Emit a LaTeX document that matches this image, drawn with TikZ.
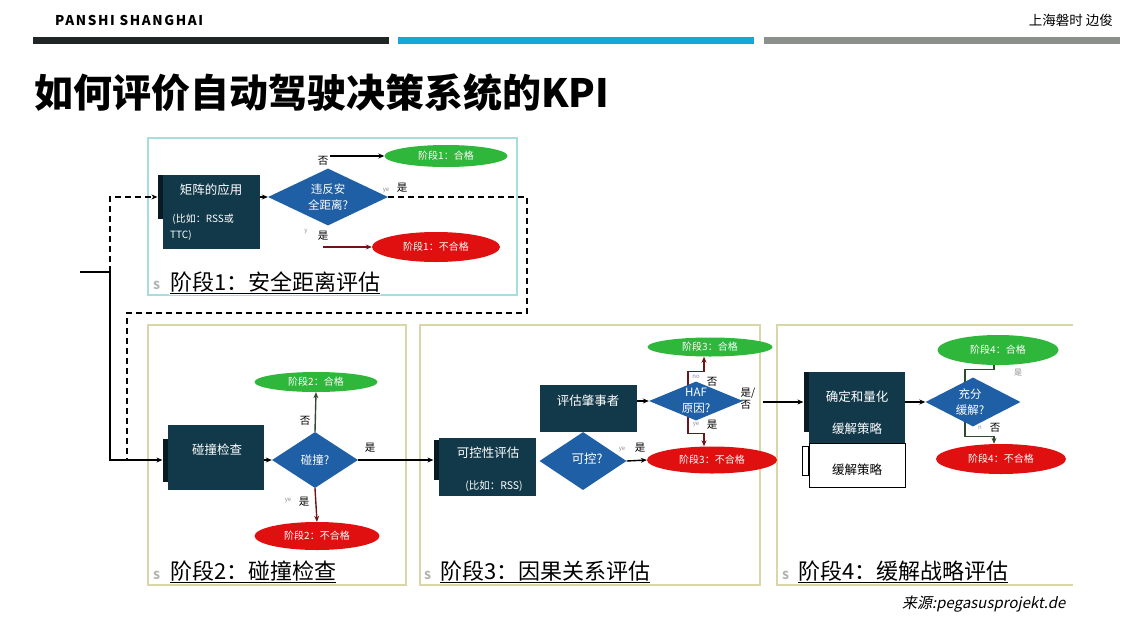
\documentclass[tikz,border=0pt]{standalone}
\usepackage{fontspec}
\setmainfont{Noto Sans CJK SC}
\newfontfamily\slantcjk{Noto Sans CJK SC}[FakeSlant=0.2]
\usetikzlibrary{arrows.meta,positioning,shapes.geometric,backgrounds}
\definecolor{boxteal}{HTML}{11394A}
\definecolor{tabdark}{HTML}{0A1A22}
\definecolor{diablue}{HTML}{1F5FA6}
\definecolor{passgreen}{HTML}{2EB73A}
\definecolor{failred}{HTML}{E01010}
\definecolor{frameone}{HTML}{A6DEDD}
\definecolor{frameall}{HTML}{DAD6A8}
\definecolor{bardark}{HTML}{202626}
\definecolor{barblue}{HTML}{17A6DA}
\definecolor{bargray}{HTML}{8B908D}
\definecolor{wiregreen}{HTML}{2F4A2F}
\definecolor{wirered}{HTML}{6E1414}
\tikzset{
    every node/.style={inner sep=0pt, font=\fontsize{10}{12}\selectfont},
    main box/.style={shape=rectangle, fill=boxteal},
    plain box/.style={shape=rectangle, fill=white, draw=black, line width=0.8pt},
    tab/.style={shape=rectangle, fill=tabdark, minimum width=5pt},
    box text/.style={text=white, font=\fontsize{12.5}{15}\selectfont},
    decision/.style={shape=diamond, fill=diablue, aspect=2},
    dia text/.style={text=white, align=center, font=\fontsize{11.5}{16}\selectfont},
    pass node/.style={shape=ellipse, fill=passgreen, text=white, font=\fontsize{10}{12}\selectfont},
    fail node/.style={shape=ellipse, fill=failred, text=white, font=\fontsize{10}{12}\selectfont},
    yn/.style={font=\fontsize{10.5}{12}\selectfont},
    tiny yn/.style={text=black!45, font=\fontsize{6}{7}\selectfont},
    stage title/.style={anchor=west, fill=white, inner sep=1pt, font=\fontsize{22}{26}\selectfont},
    stage s/.style={anchor=west, text=black!30, font=\bfseries\fontsize{11}{13}\selectfont},
    wire/.style={line width=1.4pt},
    dash wire/.style={line width=2pt, dash pattern=on 6pt off 4pt}
}

\begin{document}
\begin{tikzpicture}[x=1pt,y=-1pt,>={Stealth[length=6pt,width=5pt]}]
    \useasboundingbox (0,0) rectangle (1129,637);
    % header
    \node[anchor=west, font=\bfseries\fontsize{13.5}{15}\selectfont\addfontfeature{LetterSpace=12}] (brand) at (55,20) {PANSHI SHANGHAI};
    \node[anchor=east, font=\fontsize{13.5}{15}\selectfont] (author) at (1113,20) {上海磐时 边俊};
    \fill[bardark] (33,37) rectangle (389,44);
    \fill[barblue] (398,37) rectangle (754,44);
    \fill[bargray] (764,37) rectangle (1120,44);
    \node[anchor=west, font=\bfseries\fontsize{39}{42}\selectfont] (title) at (34,93) {如何评价自动驾驶决策系统的KPI};

    % frames
    \draw[frameone, line width=1.2pt] (148,138) rectangle (517,295);
    \draw[frameall, line width=1.2pt] (148,325) rectangle (406,585);
    \draw[frameall, line width=1.2pt] (420,325) rectangle (760,585);
    \draw[frameall, line width=1.2pt] (1073,325) -- (777,325) -- (777,585) -- (1073,585);

    % stage 1
    \node[main box, minimum width=97pt, minimum height=74pt] (mat) at (211.5,212) {};
    \node[tab, minimum height=44pt, anchor=north east] (mattab) at (mat.north west) {};
    \node[box text] (matlbl) at (211,190) {矩阵的应用};
    \node[anchor=north west, align=left, text=white, font=\fontsize{10}{16}\selectfont] (matex) at (170,214) {\ (比如：RSS或\\TTC)};
    \node[decision, minimum width=120pt, minimum height=57pt] (safe) at (328,197) {};
    \node[dia text] at (safe) {违反安\\全距离?};
    \node[pass node, minimum width=123pt, minimum height=22pt] (pass1) at (446,156) {阶段1：合格};
    \node[fail node, minimum width=128pt, minimum height=30pt] (fail1) at (436,247) {阶段1：不合格};
    \coordinate (no1) at (330,156);
    \coordinate (yes1) at (323,247);
    \draw[wire, ->] (mat.east |- safe.west) -- (safe.west);
    \draw[wire, ->] (no1) -- (pass1.west);
    \draw[wire, wirered, ->] (yes1) -- (fail1.west);
    \node[yn] at (323,161) {否};
    \node[yn] at (402,188) {是};
    \node[tiny yn] at (386,191) {ye};
    \node[yn] at (323,236) {是};
    \node[tiny yn] at (306,232) {y};
    \node[stage s] at (153,285) {S};
    \node[stage title] (t1) at (169,283) {\underline{阶段1：安全距离评估}};

    % stage 2
    \node[main box, minimum width=96pt, minimum height=65pt] (crash) at (216,457.5) {};
    \node[tab, minimum height=43pt, anchor=north east] (crashtab) at ([yshift=-13.5pt]crash.north west) {};
    \node[box text] at (217,450) {碰撞检查};
    \node[decision, minimum width=86pt, minimum height=56pt] (hit) at (315,460) {};
    \node[dia text] at (hit) {碰撞?};
    \node[pass node, minimum width=123pt, minimum height=20pt] (pass2) at (316,382) {阶段2：合格};
    \node[fail node, minimum width=125pt, minimum height=28pt] (fail2) at (317,536) {阶段2：不合格};
    \draw[wire, ->] (crash.east |- hit.west) -- (hit.west);
    \draw[wire, wiregreen, ->] (hit.north) -- (pass2.south);
    \draw[wire, wirered, ->] (hit.south) -- (fail2.north);
    \node[yn] at (305,421) {否};
    \node[yn] at (304,502) {是};
    \node[tiny yn] at (288,501) {ye};
    \node[yn] at (370,448) {是};
    \node[stage s] at (153,575) {S};
    \node[stage title] (t2) at (169,572) {\underline{阶段2：碰撞检查}};

    % entry and loop back
    \coordinate (src) at (80,272);
    \coordinate (fork) at (110,272);
    \coordinate (merge) at (127,460);
    \draw[wire] (src) -- (fork);
    \draw[dash wire, ->] (fork) |- (mattab.west);
    \draw[wire, ->] (fork) |- (crashtab.west);
    \draw[dash wire] (safe.east) -| (527,313) -| (merge);

    % stage 3
    \node[main box, minimum width=97pt, minimum height=58pt] (ctrl) at (487.5,467) {};
    \node[tab, minimum height=40pt, anchor=north east] (ctrltab) at ([yshift=-2pt]ctrl.north west) {};
    \node[box text] at (488,453) {可控性评估};
    \node[text=white, font=\fontsize{10.5}{12}\selectfont] at (494,486) {(比如：RSS)};
    \node[decision, minimum width=87pt, minimum height=58pt] (canctrl) at (583,461) {};
    \node[dia text, font=\fontsize{12.5}{15}\selectfont] at (587,459) {可控?};
    \node[main box, minimum width=97pt, minimum height=47pt] (blame) at (588.5,408.5) {};
    \node[box text] at (588,401) {评估肇事者};
    \node[decision, minimum width=94pt, minimum height=39pt] (haf) at (696,401) {};
    \node[dia text] at (haf) {HAF\\原因?};
    \node[pass node, minimum width=125pt, minimum height=19pt] (pass3) at (710,347) {阶段3：合格};
    \node[fail node, minimum width=130pt, minimum height=27pt] (fail3) at (712,460) {阶段3：不合格};
    \coordinate (out3) at (763,402);
    \draw[wire, ->] (hit.east) -- (ctrltab.west);
    \draw[wire, ->] (canctrl.east) -- (fail3.west);
    \draw[wire, ->] (blame.east |- haf.west) -- (haf.west);
    \begin{scope}[on background layer]
        \draw[wire, wirered, ->] ([xshift=-8pt]haf.center) -- ([xshift=-8pt]haf.north) -- ++(0,-10) -| ([xshift=-6pt]pass3.south);
        \draw[wire, wirered, ->] ([xshift=-8pt]haf.center) -- ([xshift=-8pt]haf.south) -- ++(0,13) -| ([xshift=-8pt]fail3.north);
    \end{scope}
    \node[yn] at (640,448) {是};
    \node[tiny yn] at (622,450) {ye};
    \node[yn] at (712,382) {否};
    \node[tiny yn] at (696,377) {no};
    \node[yn] at (712,425) {是};
    \node[tiny yn] at (696,425) {ye};
    \node[yn, align=left] at (748,399) {是/\\否};
    \node[stage s] at (424,575) {S};
    \node[stage title] (t3) at (439,572) {\underline{阶段3：因果关系评估}};

    % stage 4
    \node[main box, minimum width=96pt, minimum height=71pt] (plan) at (857,407.5) {};
    \node[tab, minimum height=60pt, anchor=north east] (plantab) at (plan.north west) {};
    \node[box text] at (857,397) {确定和量化};
    \node[box text] at (857,429) {缓解策略};
    \node[plain box, minimum width=96pt, minimum height=44pt, anchor=north] (strat) at (plan.south) {};
    \node[plain box, minimum width=6pt, minimum height=29pt, anchor=north east] (strattab) at ([yshift=-3pt]strat.north west) {};
    \node[font=\fontsize{12.5}{15}\selectfont] at (857,470) {缓解策略};
    \node[decision, minimum width=95pt, minimum height=49pt] (enough) at (973,402) {};
    \node[dia text] at (970,402) {充分\\缓解?};
    \node[pass node, minimum width=121pt, minimum height=30pt] (pass4) at (998,350) {阶段4：合格};
    \node[fail node, minimum width=130pt, minimum height=30pt] (fail4) at (1001,459) {阶段4：不合格};
    \draw[wire, ->] (out3) -- (plantab.west);
    \draw[wire, ->] (plan.east |- enough.west) -- (enough.west);
    \begin{scope}[on background layer]
        \draw[wire, wiregreen] ([xshift=-8pt]enough.center) -- ([xshift=-8pt]enough.north) -- ++(0,-8) -| ([xshift=-4pt]pass4.south);
        \draw[wire, wiregreen, ->] ([xshift=-8pt]enough.center) -- ([xshift=-8pt]enough.south) -- ++(0,10) -| ([xshift=-7pt]fail4.north);
    \end{scope}
    \node[tiny yn, font=\fontsize{8}{9}\selectfont] at (1018,373) {是};
    \node[tiny yn] at (980,428) {n};
    \node[yn] at (995,428) {否};
    \node[stage s] at (782,575) {S};
    \node[stage title] (t4) at (797,572) {\underline{阶段4：缓解战略评估}};

    % source
    \node[anchor=west, font=\slantcjk\fontsize{15}{17}\selectfont] (source) at (902,604) {来源:pegasusprojekt.de};
\end{tikzpicture}
\end{document}
